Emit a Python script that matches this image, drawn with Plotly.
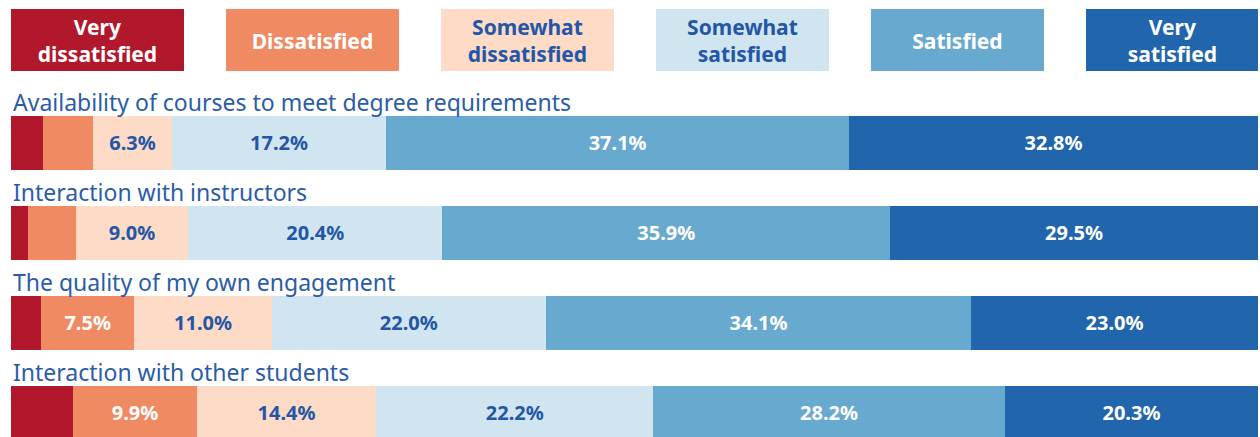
import plotly.graph_objects as go

categories = [
    "Availability of courses to meet degree requirements",
    "Interaction with instructors",
    "The quality of my own engagement",
    "Interaction with other students",
]
levels = ["Very<br>dissatisfied", "Dissatisfied", "Somewhat<br>dissatisfied",
          "Somewhat<br>satisfied", "Satisfied", "Very<br>satisfied"]

very_dissatisfied = [2.6, 1.4, 2.4, 5.0]
dissatisfied = [4.0, 3.8, 7.5, 9.9]
somewhat_dissatisfied = [6.3, 9.0, 11.0, 14.4]
somewhat_satisfied = [17.2, 20.4, 22.0, 22.2]
satisfied = [37.1, 35.9, 34.1, 28.2]
very_satisfied = [32.8, 29.5, 23.0, 20.3]

series = [very_dissatisfied, dissatisfied, somewhat_dissatisfied,
          somewhat_satisfied, satisfied, very_satisfied]
colors = ["#b2182b", "#ef8a62", "#fddbc7", "#d1e5f0", "#67a9cf", "#2166ac"]
text_colors = ["white", "white", "#2456a6", "#2456a6", "white", "white"]
blue = "#2a5ca8"
font = "Noto Sans"

rows = list(range(len(categories)))

fig = go.Figure()

# stacked bars, one trace per satisfaction level
for vals, col, tcol, name in zip(series, colors, text_colors, levels):
    fig.add_trace(go.Bar(
        x=vals, y=rows, orientation="h", width=0.6,
        marker=dict(color=col, line=dict(width=0)),
        text=[f"{v:.1f}%" if v >= 6 else "" for v in vals],
        textposition="inside", insidetextanchor="middle",
        textfont=dict(color=tcol, size=20, family=font, weight="bold"),
        name=name.replace("<br>", " "), hoverinfo="skip", showlegend=False,
    ))

# legend drawn as boxes on a second pair of axes
fig.add_trace(go.Bar(
    x=list(range(len(levels))), y=[1] * len(levels), width=0.805,
    marker=dict(color=colors, line=dict(width=0)),
    text=levels, textposition="inside", insidetextanchor="middle",
    textfont=dict(color=text_colors, size=22, family=font, weight="bold"),
    xaxis="x2", yaxis="y2", hoverinfo="skip", showlegend=False,
))

for i, cat in enumerate(categories):
    fig.add_annotation(x=0, y=i - 0.46, xref="x", yref="y", text=cat,
                       showarrow=False, xanchor="left", yanchor="middle",
                       font=dict(color=blue, size=23, family=font))

fig.update_layout(
    width=1260, height=437, barmode="stack",
    margin=dict(l=0, r=0, t=0, b=0),
    plot_bgcolor="rgba(0,0,0,0)", paper_bgcolor="white",
    uniformtext=dict(minsize=17, mode="show"),
    xaxis=dict(range=[0, 100], domain=[11 / 1260, 1258 / 1260], visible=False, fixedrange=True),
    yaxis=dict(range=[3.267, -1.589], domain=[0, 1], visible=False, fixedrange=True),
    xaxis2=dict(range=[-0.402, 5.398], overlaying="x", anchor="y2", visible=False, fixedrange=True),
    yaxis2=dict(range=[-5.903, 1.145], overlaying="y", anchor="x2", visible=False, fixedrange=True),
)

# drop the default page margin so the full-size figure fits without scrollbars
fig.write_html("out.html", config={"displayModeBar": False},
               post_script="document.body.style.margin='0';document.body.style.overflow='hidden';")
